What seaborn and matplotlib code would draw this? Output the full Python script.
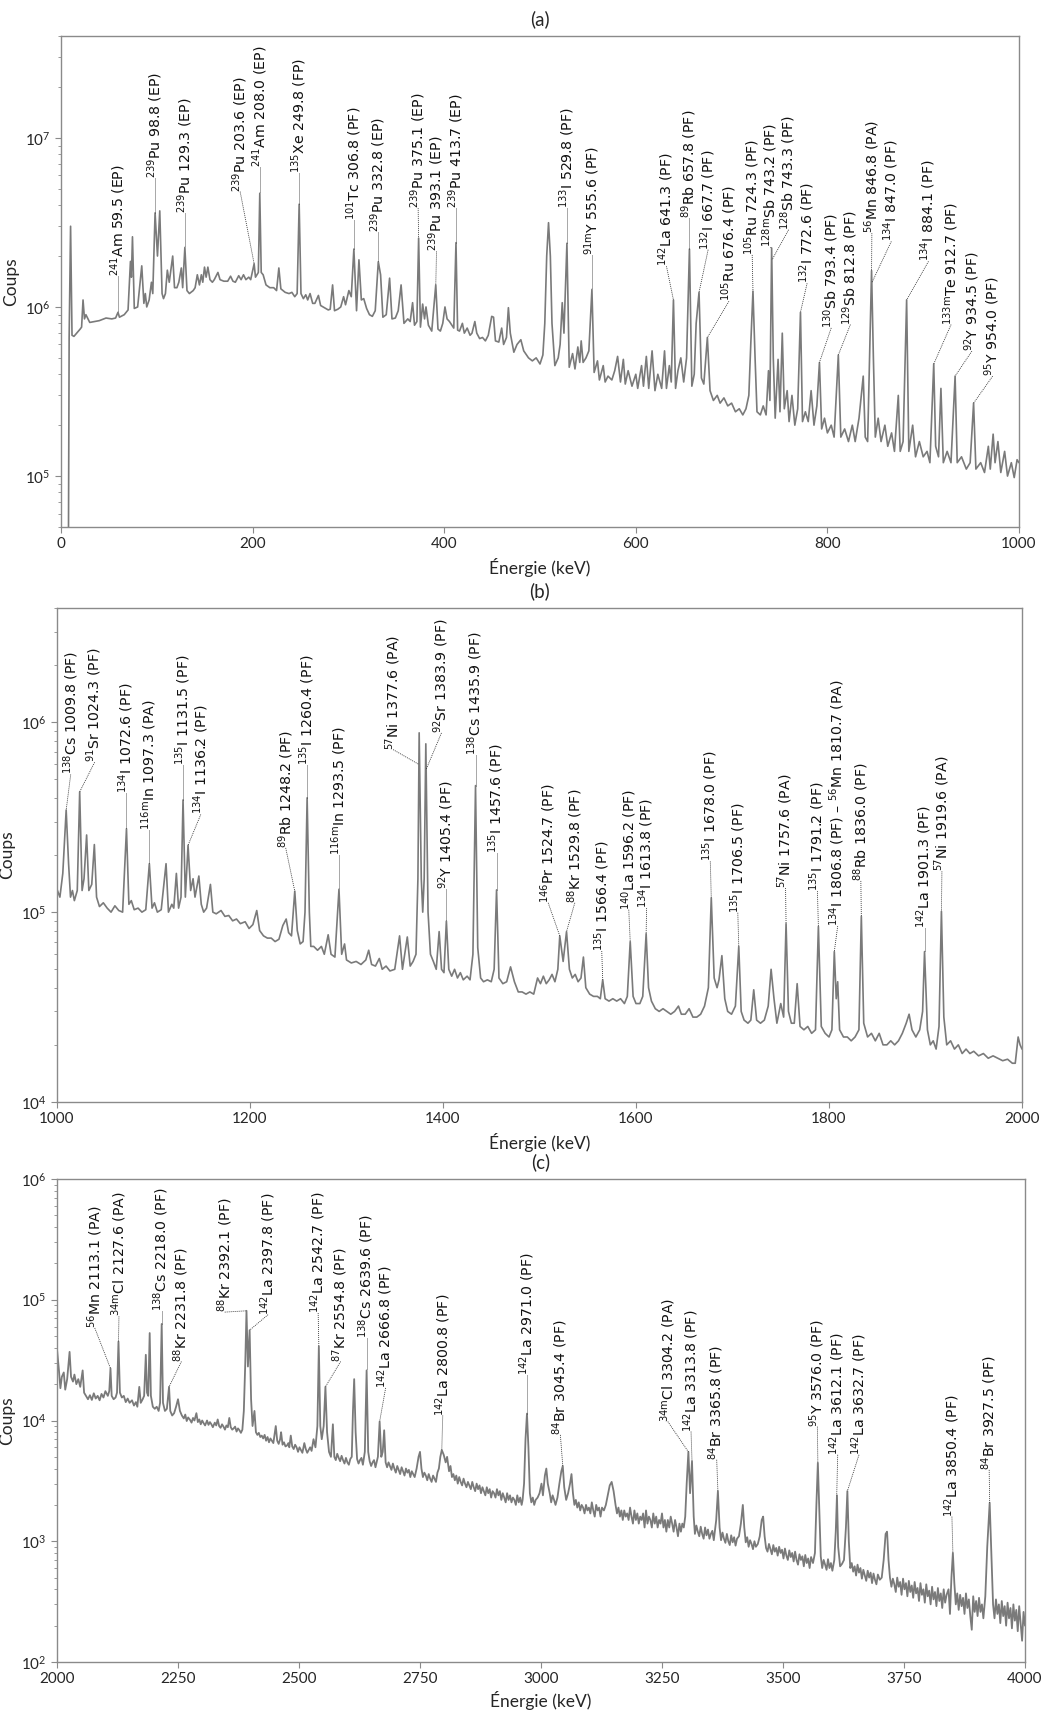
import numpy as np
import pandas as pd
import matplotlib
matplotlib.use("Agg")
import matplotlib.pyplot as plt
import seaborn as sns

# ---------------- data ----------------
# panel (a): spectrum vertices (energy keV, counts)
a_spectrum = [
    (7.0, 2.0e4), (7.6, 2.0e4), (8.5, 6.6e5), (10, 3.0e6), (11.5, 6.8e5), (13.5, 6.7e5), (20, 7.4e5),
    (21.5, 7.6e5), (23, 1.1e6), (24.5, 8.5e5), (26, 9.0e5), (30, 8.1e5), (40, 8.3e5), (47, 8.6e5),
    (53, 8.5e5), (57, 8.6e5), (59.5, 9.3e5), (61, 8.7e5), (66, 9.0e5), (70, 9.6e5), (72.5, 1.86e6),
    (73.5, 1.5e6), (74.6, 2.6e6), (76.5, 9.8e5), (80, 1.0e6), (84.3, 1.75e6), (86.5, 1.05e6),
    (88, 1.2e6), (89.5, 1.0e6), (92, 1.1e6), (94.4, 1.4e6), (95.8, 1.2e6), (98.2, 3.6e6),
    (100.7, 2.0e6), (103.1, 3.7e6), (105.5, 1.2e6), (107, 1.12e6), (109, 1.2e6), (111, 1.65e6),
    (113, 1.4e6), (115, 1.7e6), (116.6, 2.0e6), (118.5, 1.3e6), (121, 1.3e6), (123, 1.4e6),
    (125.6, 1.7e6), (127, 1.3e6), (129.3, 2.25e6), (131.5, 1.25e6), (134, 1.2e6), (138, 1.25e6),
    (140, 1.3e6), (142.3, 1.55e6), (144.5, 1.35e6), (146.5, 1.55e6), (148, 1.4e6), (149.8, 1.72e6),
    (151.5, 1.5e6), (153.3, 1.72e6), (155.5, 1.45e6), (158, 1.4e6), (160, 1.45e6), (163.8, 1.6e6),
    (166, 1.45e6), (170, 1.42e6), (174, 1.42e6), (177, 1.52e6), (179.5, 1.42e6), (182, 1.4e6),
    (185.5, 1.53e6), (188, 1.45e6), (190.5, 1.55e6), (193, 1.45e6), (196, 1.5e6), (198, 1.45e6),
    (201.6, 1.8e6), (203, 1.5e6), (204.5, 1.55e6), (206, 1.6e6), (207.5, 4.7e6), (209, 1.6e6),
    (211, 1.55e6), (214, 1.35e6), (218, 1.3e6), (222, 1.3e6), (225, 1.25e6), (227.4, 1.7e6),
    (229.5, 1.28e6), (234, 1.22e6), (238, 1.2e6), (241, 1.22e6), (244, 1.15e6), (246.5, 1.2e6),
    (248.6, 4.05e6), (250.5, 1.2e6), (253, 1.12e6), (255.5, 1.18e6), (257.5, 1.1e6), (260, 1.2e6),
    (262.7, 1.05e6), (265, 1.05e6), (268.7, 1.17e6), (271, 1.02e6), (275, 0.99e6), (279, 0.96e6),
    (281, 0.97e6), (283.5, 1.35e6), (285.5, 0.95e6), (289, 0.97e6), (292, 1.0e6), (295, 1.15e6),
    (297, 1.03e6), (300.5, 1.25e6), (303, 1.15e6), (305.7, 2.2e6), (308.5, 0.95e6), (311, 1.9e6),
    (313.5, 1.1e6), (316, 1.12e6), (319, 0.98e6), (322, 0.9e6), (325, 0.88e6), (328, 0.95e6),
    (331.2, 1.85e6), (333.6, 1.55e6), (336, 0.87e6), (339.5, 0.9e6), (343, 1.48e6), (345.5, 0.85e6),
    (349, 0.86e6), (352, 0.95e6), (355, 1.35e6), (358, 0.8e6), (362, 0.85e6), (364.5, 0.82e6),
    (367, 1.06e6), (369, 0.78e6), (371.5, 0.82e6), (373.3, 2.55e6), (375.2, 0.76e6), (377.5, 1.04e6),
    (379.5, 0.85e6), (381, 1.0e6), (383.5, 0.78e6), (387, 0.72e6), (391.2, 1.35e6), (393.5, 0.74e6),
    (396, 0.72e6), (398.5, 0.8e6), (400.8, 1.0e6), (403, 0.85e6), (405.5, 0.82e6), (408, 0.78e6),
    (410, 0.75e6), (412.3, 2.4e6), (414, 0.73e6), (416, 0.72e6), (419, 0.8e6), (421, 0.7e6),
    (424, 0.75e6), (427, 0.68e6), (429, 0.7e6), (432, 0.82e6), (434, 0.7e6), (437, 0.65e6),
    (440, 0.66e6), (443, 0.63e6), (446, 0.68e6), (449.6, 0.88e6), (451.5, 0.87e6), (453.5, 0.63e6),
    (457, 0.62e6), (460, 0.75e6), (462, 0.6e6), (465, 0.66e6), (467, 0.99e6), (469, 0.7e6),
    (472.7, 0.54e6), (476, 0.6e6), (480, 0.64e6), (483, 0.55e6), (488, 0.5e6), (492, 0.48e6),
    (496, 0.5e6), (500, 0.46e6), (503, 0.52e6), (505, 0.8e6), (507, 2.0e6), (508.9, 3.15e6),
    (510.8, 2.0e6), (512.5, 0.8e6), (515.5, 0.45e6), (519, 0.5e6), (521, 0.6e6), (523.2, 1.06e6),
    (525, 0.7e6), (528.1, 2.38e6), (530.5, 0.44e6), (534, 0.53e6), (536.5, 0.43e6), (539.5, 0.58e6),
    (541.5, 0.47e6), (543, 0.63e6), (545, 0.47e6), (548, 0.5e6), (551, 0.55e6), (554.2, 1.27e6),
    (556.5, 0.41e6), (560, 0.48e6), (562, 0.37e6), (566, 0.45e6), (568, 0.36e6), (571, 0.39e6),
    (575, 0.37e6), (578, 0.42e6), (581, 0.51e6), (584, 0.36e6), (587, 0.49e6), (589, 0.35e6),
    (592, 0.42e6), (596, 0.34e6), (600, 0.4e6), (602, 0.33e6), (606, 0.45e6), (608, 0.34e6),
    (611, 0.51e6), (613.5, 0.33e6), (617, 0.55e6), (620, 0.32e6), (623, 0.4e6), (627, 0.33e6),
    (630, 0.55e6), (632, 0.33e6), (635, 0.45e6), (637, 0.36e6), (639.3, 1.1e6), (641.5, 0.33e6),
    (644, 0.42e6), (647, 0.5e6), (650, 0.36e6), (653, 0.5e6), (656, 2.2e6), (658.5, 0.34e6),
    (661, 0.4e6), (663, 0.8e6), (666, 1.22e6), (668.5, 0.38e6), (671, 0.35e6), (674.7, 0.66e6),
    (677.5, 0.32e6), (681, 0.28e6), (685, 0.3e6), (688, 0.27e6), (692, 0.29e6), (696, 0.26e6),
    (700, 0.27e6), (704, 0.24e6), (708, 0.25e6), (711.7, 0.23e6), (715, 0.25e6), (718, 0.3e6),
    (720, 0.6e6), (722.3, 1.24e6), (724.5, 0.5e6), (726.5, 0.24e6), (730, 0.23e6), (733, 0.26e6),
    (736, 0.23e6), (738.5, 0.42e6), (740, 0.28e6), (741.8, 2.23e6), (743.5, 0.5e6), (745.5, 0.22e6),
    (748.5, 0.49e6), (750.5, 0.24e6), (752.9, 0.7e6), (755, 0.25e6), (758, 0.32e6), (760, 0.21e6),
    (763, 0.3e6), (766, 0.2e6), (769, 0.25e6), (771.9, 0.93e6), (774, 0.21e6), (777, 0.24e6),
    (780, 0.21e6), (783, 0.32e6), (786, 0.2e6), (789, 0.26e6), (791.7, 0.47e6), (794, 0.19e6),
    (797, 0.22e6), (800, 0.18e6), (804, 0.2e6), (807, 0.17e6), (811.4, 0.52e6), (814, 0.17e6),
    (818, 0.19e6), (822, 0.16e6), (826, 0.2e6), (829, 0.16e6), (833, 0.22e6), (837.4, 0.39e6),
    (839.5, 0.17e6), (842, 0.16e6), (844, 0.5e6), (846.1, 1.64e6), (848, 0.5e6), (850, 0.17e6),
    (853, 0.22e6), (856, 0.16e6), (860, 0.2e6), (863, 0.15e6), (867, 0.18e6), (870, 0.14e6),
    (874, 0.3e6), (876, 0.14e6), (879, 0.16e6), (882.7, 1.1e6), (885, 0.14e6), (889, 0.2e6),
    (892, 0.13e6), (896, 0.16e6), (900, 0.13e6), (904, 0.14e6), (907, 0.12e6), (911, 0.46e6),
    (913, 0.15e6), (916, 0.13e6), (918.5, 0.33e6), (921, 0.12e6), (925, 0.14e6), (929, 0.12e6),
    (933.3, 0.39e6), (935.5, 0.12e6), (940, 0.13e6), (945, 0.11e6), (949, 0.12e6), (952.6, 0.27e6),
    (955, 0.11e6), (960, 0.12e6), (964, 0.105e6), (968, 0.15e6), (970, 0.11e6), (973, 0.177e6),
    (975, 0.12e6), (978, 0.16e6), (981, 0.105e6), (985, 0.14e6), (988, 0.1e6), (992, 0.12e6),
    (995, 0.098e6), (998, 0.125e6), (1000, 0.12e6),
]

# panel (b)
b_spectrum = [
    (1000, 1.32e5), (1003, 1.2e5), (1006, 1.6e5), (1009.5, 3.45e5), (1012, 1.8e5), (1014, 1.2e5),
    (1016, 1.3e5), (1018, 1.15e5), (1021, 1.3e5), (1023.5, 4.3e5), (1026, 1.3e5), (1028, 1.5e5),
    (1030.7, 2.55e5), (1033, 1.3e5), (1036, 1.4e5), (1038.7, 2.27e5), (1041, 1.2e5), (1044, 1.07e5),
    (1048, 1.12e5), (1052, 1.05e5), (1056, 1.0e5), (1060, 1.08e5), (1064, 1.02e5), (1068, 1.0e5),
    (1072, 2.75e5), (1074.5, 1.1e5), (1077, 1.15e5), (1080, 1.03e5), (1084, 1.05e5), (1088, 1.0e5),
    (1092, 1.03e5), (1095.7, 1.8e5), (1098.5, 1.05e5), (1101, 1.12e5), (1104, 1.0e5), (1108, 1.03e5),
    (1113, 1.8e5), (1115.5, 1.0e5), (1119, 1.1e5), (1121, 1.05e5), (1123.7, 1.6e5), (1126, 1.05e5),
    (1128.5, 1.2e5), (1130.6, 3.9e5), (1133, 1.2e5), (1135.8, 2.25e5), (1138.5, 1.3e5), (1141, 1.5e5),
    (1143, 1.2e5), (1147, 1.55e5), (1149.5, 1.1e5), (1152, 1.0e5), (1155, 1.05e5), (1159, 1.4e5),
    (1161.5, 1.0e5), (1165, 9.8e4), (1170, 1.02e5), (1174, 9.5e4), (1178, 9.6e4), (1182, 9.0e4),
    (1186, 9.2e4), (1190, 8.7e4), (1195, 8.9e4), (1199, 8.2e4), (1203, 8.6e4), (1207, 1.02e5),
    (1210, 8.0e4), (1214, 7.5e4), (1218, 7.3e4), (1222, 7.3e4), (1226, 7.0e4), (1230, 7.2e4),
    (1234, 8.5e4), (1237.5, 9.2e4), (1240, 7.8e4), (1243, 7.5e4), (1246.4, 1.29e5), (1249, 8.0e4),
    (1252, 6.8e4), (1255, 7.0e4), (1257, 1.0e5), (1259.2, 4.0e5), (1261.5, 1.0e5), (1263, 6.6e4),
    (1266, 6.6e4), (1270, 6.3e4), (1274, 6.6e4), (1277, 6.0e4), (1281, 7.6e4), (1284, 6.0e4),
    (1288, 5.8e4), (1292.2, 1.32e5), (1295, 6.0e4), (1298, 6.8e4), (1300, 5.6e4), (1305, 5.4e4),
    (1310, 5.5e4), (1315, 5.3e4), (1320, 5.6e4), (1323, 6.3e4), (1326, 5.3e4), (1330, 5.2e4),
    (1334, 5.7e4), (1337, 5.0e4), (1341, 5.2e4), (1345, 4.9e4), (1350, 5.0e4), (1355, 7.5e4),
    (1358, 5.0e4), (1363, 7.4e4), (1366, 5.2e4), (1369, 5.5e4), (1372, 6.0e4), (1374, 1.5e5),
    (1375.3, 8.8e5), (1377.5, 1.5e5), (1379, 1.0e5), (1380.5, 1.5e5), (1382.2, 7.7e5), (1384.5, 1.0e5),
    (1387, 6.0e4), (1390, 5.5e4), (1393, 5.0e4), (1396, 7.9e4), (1398.5, 5.0e4), (1401, 4.8e4),
    (1403.5, 8.97e4), (1406, 5.0e4), (1409, 4.6e4), (1412, 5.0e4), (1415, 4.5e4), (1418, 4.8e4),
    (1421, 4.4e4), (1425, 4.6e4), (1428, 4.4e4), (1431, 6.0e4), (1433.7, 4.64e5), (1436, 6.5e4),
    (1439, 4.5e4), (1442, 4.3e4), (1446, 4.4e4), (1450, 4.3e4), (1453, 5.0e4), (1455.5, 1.31e5),
    (1458, 4.5e4), (1462, 4.2e4), (1466, 4.3e4), (1470, 5.15e4), (1474, 4.3e4), (1478, 3.8e4),
    (1482, 3.8e4), (1486, 3.7e4), (1490, 3.8e4), (1494, 3.7e4), (1498, 4.5e4), (1501, 4.2e4),
    (1504, 4.6e4), (1507, 4.2e4), (1510, 4.4e4), (1513, 4.7e4), (1516, 4.3e4), (1519, 5.0e4),
    (1521, 7.5e4), (1524.5, 5.5e4), (1528, 7.9e4), (1531, 5.0e4), (1534, 4.5e4), (1537, 4.7e4),
    (1540, 4.3e4), (1543, 4.5e4), (1545.5, 5.8e4), (1548, 4.0e4), (1552, 3.7e4), (1556, 3.6e4),
    (1560, 3.6e4), (1563, 3.5e4), (1565.5, 4.4e4), (1568, 3.5e4), (1572, 3.4e4), (1576, 3.5e4),
    (1580, 3.4e4), (1584, 3.5e4), (1588, 3.3e4), (1591, 3.6e4), (1594, 7.0e4), (1597, 3.6e4),
    (1600, 3.3e4), (1604, 3.3e4), (1607, 3.6e4), (1610.5, 7.7e4), (1613, 4.0e4), (1616, 3.4e4),
    (1620, 3.1e4), (1624, 3.0e4), (1628, 3.1e4), (1632, 3.0e4), (1636, 2.9e4), (1640, 3.0e4),
    (1644, 3.2e4), (1647, 2.9e4), (1651, 2.9e4), (1655, 3.1e4), (1659, 2.8e4), (1663, 2.8e4),
    (1667, 2.9e4), (1671, 3.2e4), (1675, 4.0e4), (1678, 1.19e5), (1681, 4.5e4), (1684, 4.0e4),
    (1686, 4.4e4), (1689, 5.9e4), (1692, 3.5e4), (1695, 3.0e4), (1699, 2.9e4), (1703, 3.2e4),
    (1706.5, 6.6e4), (1709, 3.0e4), (1712, 2.7e4), (1716, 2.6e4), (1719, 2.7e4), (1722, 3.9e4),
    (1725, 2.7e4), (1729, 2.6e4), (1733, 2.7e4), (1737, 3.2e4), (1740, 5.0e4), (1743, 3.5e4),
    (1746, 2.6e4), (1750, 3.3e4), (1753, 2.8e4), (1755.5, 8.7e4), (1758, 3.0e4), (1761, 2.6e4),
    (1764, 2.6e4), (1767, 4.2e4), (1770, 2.5e4), (1774, 2.4e4), (1778, 2.5e4), (1782, 2.3e4),
    (1786, 2.4e4), (1789, 8.4e4), (1792, 2.5e4), (1796, 2.3e4), (1800, 2.2e4), (1803, 2.4e4),
    (1805.5, 6.2e4), (1807.5, 3.5e4), (1809, 4.3e4), (1811, 2.4e4), (1815, 2.2e4), (1819, 2.2e4),
    (1823, 2.1e4), (1827, 2.2e4), (1831, 2.4e4), (1833.5, 9.5e4), (1836, 2.6e4), (1840, 2.2e4),
    (1844, 2.3e4), (1848, 2.1e4), (1852, 2.3e4), (1856, 2.0e4), (1860, 2.0e4), (1864, 2.1e4),
    (1868, 2.0e4), (1872, 2.1e4), (1876, 2.3e4), (1880, 2.6e4), (1883, 2.9e4), (1886, 2.4e4),
    (1890, 2.2e4), (1894, 2.4e4), (1897, 3.0e4), (1899, 6.2e4), (1902, 2.4e4), (1905, 2.0e4),
    (1908, 2.1e4), (1911, 1.9e4), (1914, 2.5e4), (1916.5, 1.01e5), (1919, 2.8e4), (1922, 2.0e4),
    (1926, 2.1e4), (1930, 1.9e4), (1934, 2.0e4), (1938, 1.8e4), (1942, 1.9e4), (1946, 1.8e4),
    (1950, 1.85e4), (1955, 1.75e4), (1960, 1.8e4), (1965, 1.7e4), (1970, 1.75e4), (1975, 1.7e4),
    (1980, 1.65e4), (1985, 1.68e4), (1990, 1.6e4), (1993, 1.6e4), (1996, 2.2e4), (1998, 2.0e4),
    (2000, 1.9e4),
]

# panel (c)
c_spectrum = [
    (2000, 3.9e4), (2004, 2.6e4), (2007, 1.85e4), (2010, 2.3e4), (2014, 2.5e4), (2017, 1.8e4),
    (2021, 2.2e4), (2026, 3.7e4), (2029, 2.3e4), (2033, 2.1e4), (2036, 2.4e4), (2040, 2.0e4),
    (2044, 2.2e4), (2048, 1.9e4), (2053, 2.6e4), (2056, 1.7e4), (2060, 1.6e4), (2064, 1.5e4),
    (2068, 1.62e4), (2072, 1.48e4), (2076, 1.68e4), (2080, 1.52e4), (2084, 1.6e4), (2088, 1.47e4),
    (2092, 1.66e4), (2096, 1.55e4), (2100, 1.75e4), (2105, 1.6e4), (2108, 1.75e4), (2110.5, 2.7e4),
    (2113, 1.6e4), (2117, 1.5e4), (2121, 1.55e4), (2124, 1.7e4), (2127, 4.5e4), (2130, 1.7e4),
    (2134, 1.55e4), (2138, 1.6e4), (2142, 1.42e4), (2146, 1.52e4), (2150, 1.4e4), (2155, 1.47e4),
    (2159, 1.33e4), (2163, 1.42e4), (2166, 1.3e4), (2170, 1.9e4), (2173, 1.4e4), (2177, 1.5e4),
    (2180, 1.6e4), (2183.5, 3.5e4), (2186, 1.7e4), (2188.5, 1.6e4), (2191.5, 5.3e4), (2194, 1.6e4),
    (2198, 1.3e4), (2202, 1.25e4), (2206, 1.3e4), (2210, 1.2e4), (2213, 1.4e4), (2216.3, 6.3e4),
    (2219, 1.4e4), (2223, 1.2e4), (2227, 1.25e4), (2231.5, 1.9e4), (2234, 1.2e4), (2238, 1.1e4),
    (2242, 1.15e4), (2246, 1.3e4), (2250, 1.5e4), (2254, 1.2e4), (2258, 1.1e4), (2262, 1.04e4),
    (2265, 1.12e4), (2268, 0.99e4), (2271, 1.06e4), (2275, 1.01e4), (2278, 0.96e4), (2281, 1.05e4),
    (2284, 1.0e4), (2288, 1.15e4), (2291, 0.97e4), (2294, 1.02e4), (2297, 0.93e4), (2300, 1.0e4),
    (2303, 0.95e4), (2306, 0.91e4), (2310, 1.0e4), (2313, 0.92e4), (2316, 0.97e4), (2319, 0.93e4),
    (2322, 0.88e4), (2326, 0.96e4), (2329, 0.91e4), (2332, 1.02e4), (2335, 0.9e4), (2338, 0.87e4),
    (2341, 0.93e4), (2344, 0.89e4), (2347, 0.84e4), (2350, 0.91e4), (2353, 0.88e4), (2356, 1.05e4),
    (2359, 0.88e4), (2362, 0.84e4), (2365, 0.86e4), (2368, 0.89e4), (2371, 0.81e4), (2374, 0.86e4),
    (2377, 0.83e4), (2380, 0.79e4), (2383, 0.84e4), (2386, 1.2e4),
    (2389, 3.0e4), (2391.5, 8.1e4), (2394.5, 2.8e4), (2398, 5.6e4), (2401, 1.5e4), (2404, 0.9e4),
    (2408, 1.2e4), (2411, 0.8e4), (2414, 0.76e4), (2417, 0.79e4), (2420, 0.73e4), (2423, 0.75e4),
    (2426, 0.71e4), (2429, 0.76e4), (2432, 0.68e4), (2435, 0.73e4), (2438, 0.66e4), (2441, 0.71e4),
    (2444, 0.68e4), (2447, 0.65e4), (2452, 0.9e4), (2455, 0.68e4), (2458, 0.64e4), (2461, 0.7e4),
    (2463, 0.8e4), (2466, 0.63e4), (2469, 0.66e4), (2472, 0.61e4), (2475, 0.62e4), (2478, 0.65e4),
    (2480, 0.6e4), (2483, 0.75e4), (2486, 0.61e4), (2489, 0.58e4), (2492, 0.63e4), (2495, 0.6e4),
    (2498, 0.55e4), (2501, 0.6e4), (2504, 0.57e4), (2507, 0.54e4), (2511, 0.65e4), (2514, 0.58e4),
    (2517, 0.54e4), (2520, 0.57e4), (2523, 0.6e4), (2526, 0.56e4), (2530, 0.7e4), (2534, 0.6e4),
    (2538, 0.9e4), (2541, 4.1e4), (2544, 0.9e4), (2547, 0.7e4), (2551, 0.9e4), (2554.6, 1.9e4),
    (2558, 0.8e4), (2562, 0.55e4), (2566, 0.5e4), (2570, 0.93e4), (2573, 0.5e4), (2576, 0.47e4),
    (2579, 0.53e4), (2582, 0.49e4), (2585, 0.46e4), (2588, 0.51e4), (2591, 0.47e4), (2594, 0.44e4),
    (2597, 0.49e4), (2600, 0.45e4), (2603, 0.43e4), (2606, 0.48e4), (2609, 0.5e4), (2611.5, 1.2e4),
    (2614, 2.2e4), (2617, 0.8e4), (2620, 0.48e4), (2623, 0.44e4), (2626, 0.47e4), (2629, 0.49e4),
    (2632, 0.43e4), (2636, 0.55e4), (2639.7, 2.6e4), (2643, 0.55e4), (2646, 0.46e4), (2649, 0.42e4),
    (2652, 0.45e4), (2655, 0.47e4), (2658, 0.41e4), (2663, 0.5e4), (2666.6, 0.98e4), (2670, 0.5e4),
    (2673, 0.55e4), (2676, 0.83e4), (2679, 0.45e4), (2682, 0.41e4), (2685, 0.45e4), (2688, 0.42e4),
    (2691, 0.39e4), (2694, 0.44e4), (2697, 0.4e4), (2700, 0.37e4), (2703, 0.42e4), (2706, 0.39e4),
    (2709, 0.36e4), (2712, 0.41e4), (2715, 0.38e4), (2718, 0.35e4), (2721, 0.4e4), (2724, 0.37e4),
    (2727, 0.39e4), (2730, 0.34e4), (2733, 0.38e4), (2736, 0.36e4), (2739, 0.34e4), (2743, 0.4e4),
    (2747, 0.5e4), (2750, 0.55e4), (2753, 0.4e4), (2756, 0.34e4), (2759, 0.37e4), (2762, 0.35e4),
    (2765, 0.32e4), (2768, 0.36e4), (2771, 0.33e4), (2774, 0.31e4), (2777, 0.35e4), (2780, 0.33e4),
    (2783, 0.31e4), (2786, 0.37e4), (2789, 0.4e4), (2792, 0.5e4), (2795, 0.57e4), (2799, 0.52e4),
    (2803, 0.45e4), (2806, 0.5e4), (2810, 0.38e4), (2813, 0.42e4), (2816, 0.34e4), (2819, 0.36e4),
    (2822, 0.32e4), (2825, 0.35e4), (2828, 0.3e4), (2831, 0.34e4), (2834, 0.31e4), (2837, 0.29e4),
    (2840, 0.33e4), (2843, 0.3e4), (2846, 0.28e4), (2849, 0.31e4), (2852, 0.29e4), (2855, 0.27e4),
    (2858, 0.31e4), (2861, 0.28e4), (2864, 0.26e4), (2867, 0.3e4), (2870, 0.27e4), (2873, 0.29e4),
    (2876, 0.25e4), (2879, 0.28e4), (2882, 0.26e4), (2885, 0.24e4), (2888, 0.28e4), (2891, 0.25e4),
    (2894, 0.27e4), (2897, 0.23e4), (2900, 0.26e4), (2903, 0.25e4), (2906, 0.23e4), (2909, 0.27e4),
    (2912, 0.24e4), (2915, 0.26e4), (2918, 0.22e4), (2921, 0.25e4), (2924, 0.23e4), (2927, 0.21e4),
    (2930, 0.25e4), (2933, 0.22e4), (2936, 0.24e4), (2939, 0.21e4), (2942, 0.23e4), (2945, 0.22e4),
    (2948, 0.2e4), (2951, 0.24e4), (2954, 0.21e4), (2957, 0.23e4), (2960, 0.2e4), (2962, 0.22e4),
    (2965, 0.3e4), (2968, 0.7e4), (2971, 1.14e4), (2974, 0.6e4), (2977, 0.25e4), (2980, 0.21e4),
    (2983, 0.23e4), (2986, 0.2e4), (2989, 0.22e4), (2993, 0.23e4), (2997, 0.25e4), (3001, 0.3e4),
    (3004, 0.24e4), (3008, 0.35e4), (3011, 0.4e4), (3014, 0.3e4), (3018, 0.25e4), (3021, 0.21e4),
    (3024, 0.24e4), (3027, 0.22e4), (3030, 0.2e4), (3034, 0.23e4), (3038, 0.3e4), (3042, 0.38e4),
    (3045, 0.42e4), (3048, 0.28e4), (3052, 0.22e4), (3056, 0.25e4), (3060, 0.3e4), (3063, 0.36e4),
    (3066, 0.25e4), (3069, 0.2e4), (3072, 0.22e4), (3075, 0.19e4), (3078, 0.21e4), (3081, 0.18e4),
    (3084, 0.2e4), (3087, 0.19e4), (3090, 0.17e4), (3093, 0.2e4), (3096, 0.18e4), (3099, 0.19e4),
    (3102, 0.17e4), (3105, 0.21e4), (3108, 0.18e4), (3111, 0.16e4), (3114, 0.2e4), (3117, 0.18e4),
    (3120, 0.19e4), (3123, 0.16e4), (3126, 0.19e4), (3130, 0.18e4), (3134, 0.2e4), (3138, 0.24e4),
    (3142, 0.29e4), (3146, 0.31e4), (3150, 0.26e4), (3154, 0.2e4), (3157, 0.17e4), (3160, 0.19e4),
    (3163, 0.16e4), (3166, 0.18e4), (3169, 0.15e4), (3172, 0.18e4), (3175, 0.16e4), (3178, 0.17e4),
    (3181, 0.15e4), (3184, 0.19e4), (3187, 0.16e4), (3190, 0.14e4), (3193, 0.18e4), (3196, 0.15e4),
    (3199, 0.17e4), (3202, 0.14e4), (3205, 0.16e4), (3208, 0.15e4), (3211, 0.17e4), (3214, 0.13e4),
    (3217, 0.18e4), (3220, 0.14e4), (3223, 0.16e4), (3226, 0.15e4), (3229, 0.13e4), (3232, 0.17e4),
    (3235, 0.14e4), (3238, 0.16e4), (3241, 0.13e4), (3244, 0.15e4), (3247, 0.14e4), (3250, 0.17e4),
    (3253, 0.13e4), (3256, 0.15e4), (3259, 0.12e4), (3262, 0.15e4), (3265, 0.13e4), (3268, 0.16e4),
    (3271, 0.14e4), (3274, 0.12e4), (3277, 0.15e4), (3280, 0.13e4), (3283, 0.11e4), (3286, 0.14e4),
    (3289, 0.12e4), (3292, 0.14e4), (3295, 0.13e4), (3298, 0.16e4), (3301, 0.3e4), (3304.5, 5.5e3),
    (3308, 2.5e3), (3312, 4.6e3), (3315.5, 1.6e3), (3318, 1.15e3), (3321, 1.35e3), (3324, 1.2e3),
    (3327, 1.1e3), (3330, 1.32e3), (3333, 1.15e3), (3336, 1.05e3), (3339, 1.3e3), (3342, 1.12e3),
    (3345, 1.25e3), (3348, 1.05e3), (3351, 1.15e3), (3354, 1.22e3), (3357, 1.02e3), (3362, 1.5e3),
    (3365.5, 2.6e3), (3369, 1.3e3), (3372, 1.02e3), (3375, 1.18e3), (3378, 1.05e3), (3381, 0.97e3),
    (3384, 1.15e3), (3387, 1.0e3), (3390, 0.93e3), (3393, 1.12e3), (3396, 0.98e3), (3399, 1.08e3),
    (3402, 0.92e3), (3405, 1.05e3), (3409, 1.1e3), (3413, 1.4e3), (3417, 2.0e3), (3420, 1.3e3),
    (3423, 0.98e3), (3426, 1.08e3), (3429, 0.9e3), (3432, 1.02e3), (3435, 0.95e3), (3438, 0.86e3),
    (3441, 1.0e3), (3444, 0.9e3), (3448, 0.95e3), (3452, 1.1e3), (3456, 1.5e3), (3459, 1.6e3),
    (3462, 1.1e3), (3465, 0.88e3), (3468, 0.82e3), (3471, 0.95e3), (3474, 0.86e3), (3477, 0.78e3),
    (3480, 0.93e3), (3483, 0.82e3), (3486, 0.88e3), (3489, 0.76e3), (3492, 0.9e3), (3495, 0.8e3),
    (3498, 0.85e3), (3501, 0.72e3), (3504, 0.87e3), (3507, 0.76e3), (3510, 0.7e3), (3513, 0.84e3),
    (3516, 0.74e3), (3519, 0.8e3), (3522, 0.68e3), (3525, 0.82e3), (3528, 0.7e3), (3531, 0.64e3),
    (3534, 0.78e3), (3537, 0.7e3), (3540, 0.75e3), (3543, 0.62e3), (3546, 0.77e3), (3549, 0.66e3),
    (3552, 0.72e3), (3555, 0.6e3), (3558, 0.74e3), (3562, 0.66e3), (3566, 0.8e3), (3569, 2.0e3),
    (3572, 4.45e3), (3575, 1.8e3), (3578, 0.75e3), (3581, 0.6e3), (3584, 0.7e3), (3587, 0.64e3),
    (3590, 0.58e3), (3593, 0.71e3), (3596, 0.6e3), (3599, 0.66e3), (3602, 0.57e3), (3606, 0.7e3),
    (3609, 1.2e3), (3611.5, 2.4e3), (3614, 0.9e3), (3618, 0.62e3), (3622, 0.65e3), (3626, 0.7e3),
    (3630, 1.3e3), (3633, 2.6e3), (3636, 1.0e3), (3639, 0.6e3), (3642, 0.66e3), (3645, 0.56e3),
    (3648, 0.62e3), (3651, 0.52e3), (3654, 0.64e3), (3657, 0.55e3), (3660, 0.6e3), (3663, 0.49e3),
    (3666, 0.58e3), (3669, 0.52e3), (3672, 0.47e3), (3675, 0.57e3), (3678, 0.5e3), (3681, 0.55e3),
    (3684, 0.45e3), (3687, 0.54e3), (3690, 0.48e3), (3693, 0.44e3), (3696, 0.53e3), (3700, 0.48e3),
    (3704, 0.5e3), (3708, 0.7e3), (3712, 1.15e3), (3715, 1.2e3), (3718, 0.7e3), (3721, 0.5e3),
    (3724, 0.42e3), (3727, 0.49e3), (3730, 0.44e3), (3733, 0.38e3), (3736, 0.5e3), (3739, 0.42e3),
    (3742, 0.46e3), (3745, 0.36e3), (3748, 0.49e3), (3751, 0.4e3), (3754, 0.45e3), (3757, 0.35e3),
    (3760, 0.47e3), (3763, 0.38e3), (3766, 0.43e3), (3769, 0.34e3), (3772, 0.46e3), (3775, 0.37e3),
    (3778, 0.41e3), (3781, 0.32e3), (3784, 0.45e3), (3787, 0.36e3), (3790, 0.4e3), (3793, 0.31e3),
    (3796, 0.44e3), (3799, 0.35e3), (3802, 0.39e3), (3805, 0.3e3), (3808, 0.42e3), (3811, 0.33e3),
    (3814, 0.38e3), (3817, 0.29e3), (3820, 0.41e3), (3823, 0.32e3), (3826, 0.37e3), (3829, 0.28e3),
    (3832, 0.4e3), (3835, 0.31e3), (3838, 0.36e3), (3842, 0.4e3), (3845, 0.25e3), (3848, 0.5e3),
    (3851, 0.8e3), (3854, 0.45e3), (3857, 0.3e3), (3860, 0.37e3), (3863, 0.27e3), (3866, 0.36e3),
    (3869, 0.29e3), (3872, 0.34e3), (3875, 0.25e3), (3878, 0.37e3), (3881, 0.28e3), (3884, 0.33e3),
    (3887, 0.24e3), (3890, 0.185e3), (3893, 0.35e3), (3896, 0.26e3), (3899, 0.32e3), (3902, 0.24e3),
    (3905, 0.34e3), (3908, 0.26e3), (3911, 0.3e3), (3914, 0.23e3), (3918, 0.35e3), (3922, 0.9e3),
    (3927, 2.08e3), (3931, 0.7e3), (3934, 0.3e3), (3937, 0.23e3), (3940, 0.33e3), (3943, 0.25e3),
    (3946, 0.3e3), (3949, 0.21e3), (3952, 0.32e3), (3955, 0.24e3), (3958, 0.29e3), (3961, 0.2e3),
    (3964, 0.31e3), (3967, 0.23e3), (3970, 0.28e3), (3973, 0.19e3), (3976, 0.3e3), (3979, 0.22e3),
    (3982, 0.27e3), (3985, 0.18e3), (3988, 0.29e3), (3991, 0.21e3), (3994, 0.15e3), (3997, 0.26e3),
    (4000, 0.2e3),
]

# annotations: (label, peak energy, peak counts, label energy, label counts)
a_labels = [
    ("$^{241}$Am 59.5 (EP)", 59.5, 9.3e5, 59.5, 1.53e6),
    ("$^{239}$Pu 98.8 (EP)", 98.2, 3.6e6, 98.2, 5.76e6),
    ("$^{239}$Pu 129.3 (EP)", 129.3, 2.25e6, 129.3, 3.58e6),
    ("$^{239}$Pu 203.6 (EP)", 201.6, 1.8e6, 187.0, 4.81e6),
    ("$^{241}$Am 208.0 (EP)", 207.5, 4.7e6, 207.5, 6.74e6),
    ("$^{135}$Xe 249.8 (FP)", 248.6, 4.05e6, 248.6, 6.17e6),
    ("$^{101}$Tc 306.8 (PF)", 305.7, 2.2e6, 305.7, 3.27e6),
    ("$^{239}$Pu 332.8 (EP)", 331.2, 1.85e6, 331.2, 2.79e6),
    ("$^{239}$Pu 375.1 (EP)", 373.3, 2.55e6, 372.8, 3.84e6),
    ("$^{239}$Pu 393.1 (EP)", 391.2, 1.35e6, 392.0, 2.13e6),
    ("$^{239}$Pu 413.7 (EP)", 412.3, 2.4e6, 412.3, 3.84e6),
    ("$^{133}$I 529.8 (PF)", 528.1, 2.38e6, 528.1, 3.84e6),
    ("$^{91\\mathrm{m}}$Y 555.6 (PF)", 554.2, 1.27e6, 554.2, 2.03e6),
    ("$^{142}$La 641.3 (PF)", 639.3, 1.1e6, 632.0, 1.74e6),
    ("$^{89}$Rb 657.8 (PF)", 656.0, 2.2e6, 656.0, 3.35e6),
    ("$^{132}$I 667.7 (PF)", 666.0, 1.22e6, 675.5, 2.18e6),
    ("$^{105}$Ru 676.4 (PF)", 674.7, 6.6e5, 697.2, 1.08e6),
    ("$^{105}$Ru 724.3 (PF)", 722.3, 1.24e6, 721.5, 2.03e6),
    ("$^{128\\mathrm{m}}$Sb 743.2 (PF)", 741.8, 2.23e6, 740.5, 2.25e6),
    ("$^{128}$Sb 743.3 (PF)", 742.2, 1.9e6, 759.5, 2.86e6),
    ("$^{132}$I 772.6 (PF)", 771.9, 9.3e5, 778.8, 1.38e6),
    ("$^{130}$Sb 793.4 (PF)", 791.7, 4.7e5, 804.0, 7.52e5),
    ("$^{129}$Sb 812.8 (PF)", 811.4, 5.2e5, 824.0, 7.87e5),
    ("$^{56}$Mn 846.8 (PA)", 846.1, 1.64e6, 846.4, 2.73e6),
    ("$^{134}$I 847.0 (PF)", 846.6, 1.4e6, 866.7, 2.44e6),
    ("$^{134}$I 884.1 (PF)", 882.7, 1.1e6, 905.5, 1.86e6),
    ("$^{133\\mathrm{m}}$Te 912.7 (PF)", 911.0, 4.6e5, 929.1, 7.87e5),
    ("$^{92}$Y 934.5 (PF)", 933.3, 3.9e5, 950.8, 5.48e5),
    ("$^{95}$Y 954.0 (PF)", 952.6, 2.7e5, 972.5, 3.9e5),
]

b_labels = [
    ("$^{138}$Cs 1009.8 (PF)", 1009.5, 3.45e5, 1014.2, 5.31e5),
    ("$^{91}$Sr 1024.3 (PF)", 1023.5, 4.3e5, 1039.0, 6.16e5),
    ("$^{134}$I 1072.6 (PF)", 1072.0, 2.75e5, 1072.0, 4.22e5),
    ("$^{116\\mathrm{m}}$In 1097.3 (PA)", 1095.7, 1.8e5, 1095.7, 2.72e5),
    ("$^{135}$I 1131.5 (PF)", 1130.6, 3.9e5, 1130.6, 5.99e5),
    ("$^{134}$I 1136.2 (PF)", 1135.8, 2.25e5, 1149.0, 3.27e5),
    ("$^{89}$Rb 1248.2 (PF)", 1246.4, 1.29e5, 1237.0, 2.18e5),
    ("$^{135}$I 1260.4 (PF)", 1259.2, 4.0e5, 1259.2, 5.99e5),
    ("$^{116\\mathrm{m}}$In 1293.5 (PF)", 1292.2, 1.32e5, 1292.2, 2.01e5),
    ("$^{57}$Ni 1377.6 (PA)", 1375.0, 6.0e5, 1348.3, 7.18e5),
    ("$^{92}$Sr 1383.9 (PF)", 1382.5, 5.64e5, 1398.4, 8.79e5),
    ("$^{92}$Y 1405.4 (PF)", 1403.5, 8.97e4, 1403.5, 1.32e5),
    ("$^{138}$Cs 1435.9 (PF)", 1433.7, 4.64e5, 1433.7, 6.76e5),
    ("$^{135}$I 1457.6 (PF)", 1455.5, 1.31e5, 1455.5, 2.06e5),
    ("$^{146}$Pr 1524.7 (PF)", 1521.0, 7.5e4, 1509.0, 1.12e5),
    ("$^{88}$Kr 1529.8 (PF)", 1528.0, 7.9e4, 1536.6, 1.12e5),
    ("$^{135}$I 1566.4 (PF)", 1565.5, 4.4e4, 1564.5, 6.24e4),
    ("$^{140}$La 1596.2 (PF)", 1594.0, 7.0e4, 1592.5, 1.03e5),
    ("$^{134}$I 1613.8 (PF)", 1610.5, 7.7e4, 1611.0, 1.05e5),
    ("$^{135}$I 1678.0 (PF)", 1678.0, 1.19e5, 1677.0, 1.85e5),
    ("$^{135}$I 1706.5 (PF)", 1706.5, 6.6e4, 1705.5, 9.93e4),
    ("$^{57}$Ni 1757.6 (PA)", 1755.5, 8.7e4, 1755.0, 1.34e5),
    ("$^{135}$I 1791.2 (PF)", 1789.0, 8.4e4, 1788.0, 1.29e5),
    ("$^{134}$I 1806.8 (PF) \u2013 $^{56}$Mn 1810.7 (PA)", 1805.5, 6.2e4, 1809.0, 8.44e4),
    ("$^{88}$Rb 1836.0 (PF)", 1833.5, 9.5e4, 1833.0, 1.46e5),
    ("$^{142}$La 1901.3 (PF)", 1899.0, 6.2e4, 1899.0, 8.27e4),
    ("$^{57}$Ni 1919.6 (PA)", 1916.5, 1.01e5, 1917.0, 1.64e5),
]

c_labels = [
    ("$^{56}$Mn 2113.1 (PA)", 2110.5, 2.7e4, 2078.0, 5.84e4),
    ("$^{34\\mathrm{m}}$Cl 2127.6 (PA)", 2127.0, 4.5e4, 2128.0, 7.28e4),
    ("$^{138}$Cs 2218.0 (PF)", 2216.3, 6.3e4, 2216.3, 8.0e4),
    ("$^{88}$Kr 2231.8 (PF)", 2231.5, 1.9e4, 2257.0, 3.08e4),
    ("$^{88}$Kr 2392.1 (PF)", 2391.5, 8.1e4, 2346.5, 7.9e4),
    ("$^{142}$La 2397.8 (PF)", 2398.0, 5.6e4, 2436.0, 7.52e4),
    ("$^{142}$La 2542.7 (PF)", 2541.0, 4.1e4, 2539.6, 7.76e4),
    ("$^{87}$Kr 2554.8 (PF)", 2554.6, 1.9e4, 2586.0, 3.08e4),
    ("$^{138}$Cs 2639.6 (PF)", 2639.7, 2.6e4, 2639.7, 4.82e4),
    ("$^{142}$La 2666.8 (PF)", 2666.6, 9.8e3, 2679.0, 1.86e4),
    ("$^{142}$La 2800.8 (PF)", 2795.0, 5.7e3, 2797.0, 1.1e4),
    ("$^{142}$La 2971.0 (PF)", 2971.0, 1.14e4, 2971.0, 2.39e4),
    ("$^{84}$Br 3045.4 (PF)", 3045.0, 4.2e3, 3040.0, 7.6e3),
    ("$^{34\\mathrm{m}}$Cl 3304.2 (PA)", 3304.5, 5.5e3, 3262.0, 9.8e3),
    ("$^{142}$La 3313.8 (PF)", 3312.0, 4.6e3, 3310.0, 8.1e3),
    ("$^{84}$Br 3365.8 (PF)", 3365.5, 2.6e3, 3363.0, 4.73e3),
    ("$^{95}$Y 3576.0 (PF)", 3572.0, 4.45e3, 3571.0, 8.9e3),
    ("$^{142}$La 3612.1 (PF)", 3611.0, 2.4e3, 3613.0, 5.2e3),
    ("$^{142}$La 3632.7 (PF)", 3633.0, 2.6e3, 3657.0, 5.2e3),
    ("$^{142}$La 3850.4 (PF)", 3851.0, 8.0e2, 3849.0, 1.6e3),
    ("$^{84}$Br 3927.5 (PF)", 3927.0, 2.08e3, 3926.0, 3.9e3),
]

panel_titles = ["(a)", "(b)", "(c)"]
a_xticks = [0, 200, 400, 600, 800, 1000]
b_xticks = [1000, 1200, 1400, 1600, 1800, 2000]
c_xticks = [2000, 2250, 2500, 2750, 3000, 3250, 3500, 3750, 4000]

# ---------------- style ----------------
sns.set_style("ticks")
plt.rcParams['font.family'] = ['Lato', 'DejaVu Sans']
plt.rcParams['mathtext.fontset'] = 'dejavusans'
LINE = "#7a7a7a"
SPINE = "#8a8a8a"

fig = plt.figure(figsize=(10.41, 17.11), dpi=100)

W, H = 1041.0, 1711.0
def axes_px(x0, y0, x1, y1):
    return fig.add_axes([x0 / W, 1 - y1 / H, (x1 - x0) / W, (y1 - y0) / H])

ax_a = axes_px(61, 36, 1019, 527)
ax_b = axes_px(57, 608, 1022, 1102)
ax_c = axes_px(57, 1179, 1025, 1662)


def draw(ax, spectrum, labels, xlim, ylim, xticks, title, lw, xlabelpad):
    e, c = zip(*spectrum)
    df = pd.DataFrame({"energy": e, "counts": c})
    ax.set_yscale("log")
    sns.lineplot(data=df, x="energy", y="counts", ax=ax, color=LINE, lw=lw,
                 estimator=None, sort=False)
    ax.set_xlim(*xlim)
    ax.set_ylim(*ylim)
    ax.set_xticks(xticks)
    ax.set_xticklabels([str(t) for t in xticks])
    ax.set_xlabel("Énergie (keV)", fontsize=12.5, labelpad=xlabelpad)
    ax.set_ylabel("Coups", fontsize=12.5, labelpad=4)
    ax.set_title(title, fontsize=13.5, pad=8)
    ax.tick_params(axis="both", which="major", labelsize=11, length=4, width=0.8, color=SPINE)
    ax.tick_params(axis="y", which="minor", length=2, width=0.6, color=SPINE)
    for s in ax.spines.values():
        s.set_color(SPINE)
        s.set_linewidth(1.0)
    for lab, pe, pc, te, tc in labels:
        ax.plot([te, pe], [tc, pc], ls=(0, (1.2, 1.2)), lw=0.6, color="#333333")
        ax.text(te, tc, lab, rotation=90, ha="center", va="bottom", fontsize=10.2,
                family=["DejaVu Sans"], color="#111111")


draw(ax_a, a_spectrum, a_labels, (0, 1000), (5e4, 4e7), a_xticks, panel_titles[0], 1.2, 5)
draw(ax_b, b_spectrum, b_labels, (1000, 2000), (1e4, 4e6), b_xticks, panel_titles[1], 1.2, 5)
draw(ax_c, c_spectrum, c_labels, (2000, 4000), (1e2, 1e6), c_xticks, panel_titles[2], 1.3, 3)

fig.savefig("out.png", dpi=100)
